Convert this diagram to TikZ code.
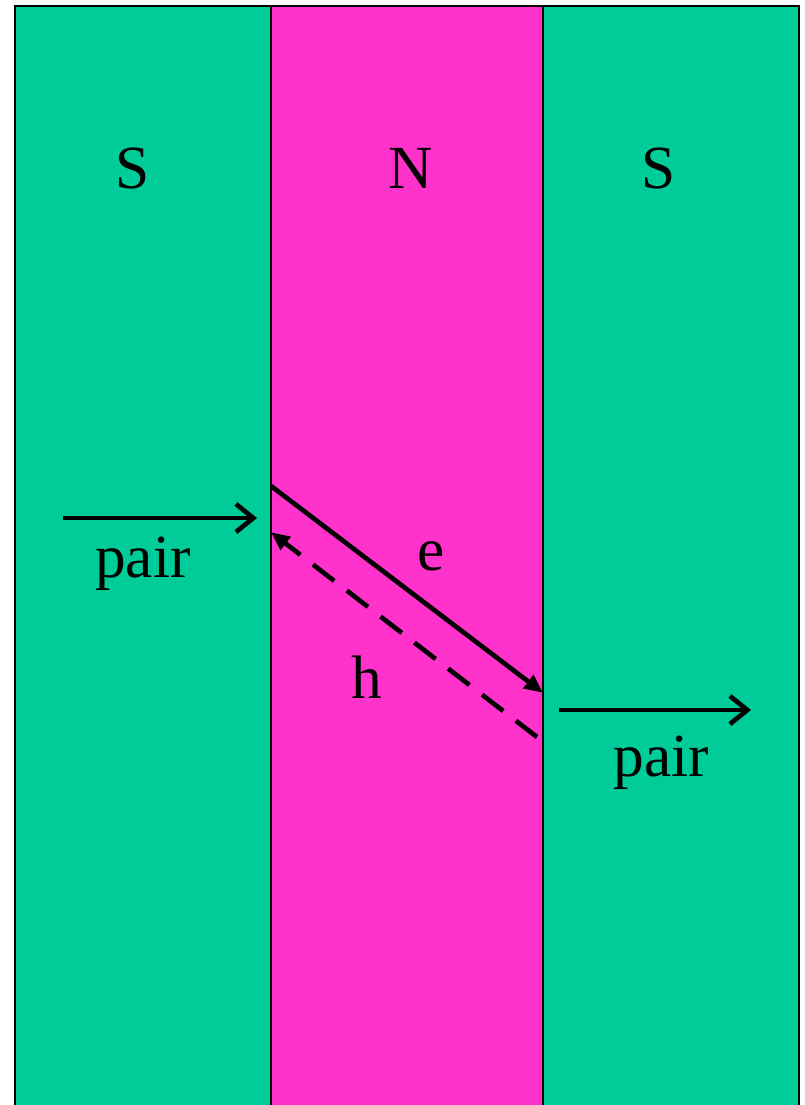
\documentclass[tikz,border=0pt]{standalone}
\usepackage{fontspec}
\setmainfont{Liberation Serif}
\usepackage{xcolor}
\definecolor{scgreen}{RGB}{0,204,153}
\definecolor{nmagenta}{RGB}{255,51,204}
\usepackage{tikz}
\usetikzlibrary{arrows.meta, positioning}

\tikzset{
  region/.style={draw=black, line width=1.5pt},
  lbl/.style={font=\fontsize{46}{50}\selectfont, inner sep=0pt},
  pairarrow/.style={line width=3.5pt, -{Straight Barb[length=13pt, width=21pt, line width=3.5pt]}},
  carrier/.style={line width=3.5pt, -{Triangle[length=14pt, width=12pt]}, shorten >=-1pt}
}

\begin{document}
\begin{tikzpicture}[x=0.75pt, y=-0.75pt]
  \useasboundingbox (0,0) rectangle (804,1105);
  \begin{scope}
    \clip (0,0) rectangle (804,1105);
    % Layers S | N | S
    \draw[region, fill=scgreen]  (15,6) rectangle (271,1120);
    \draw[region, fill=nmagenta] (271,6) rectangle (543,1120);
    \draw[region, fill=scgreen]  (543,6) rectangle (799,1120);
  \end{scope}

  % --- Labels of the layers ---
  \node[lbl] (sleft)  at (133,168) {S};
  \node[lbl] (nmid)   at (411,168) {N};
  \node[lbl] (sright) at (659,168) {S};

  % --- Incoming pair ---
  \coordinate (pinA) at (63,518);
  \coordinate (pinB) at (257,518);
  \draw[pairarrow] (pinA) -- (pinB);
  \node[lbl] (pairin) at (143,564) {pair};

  % --- Electron and hole ---
  \coordinate (estart) at (271,486);
  \coordinate (eend)   at (542,692);
  \draw[carrier] (estart) -- (eend);
  \node[lbl] (elbl) at (431,556) {e};

  \coordinate (hstart) at (537,737);
  \coordinate (hend)   at (272,533);
  \draw[carrier, dash pattern=on 20pt off 12pt] (hstart) -- (hend);
  \node[lbl] (hlbl) at (367,677) {h};

  % --- Outgoing pair ---
  \coordinate (poutA) at (559,710);
  \coordinate (poutB) at (751,710);
  \draw[pairarrow] (poutA) -- (poutB);
  \node[lbl] (pairout) at (661,763) {pair};
\end{tikzpicture}
\end{document}
